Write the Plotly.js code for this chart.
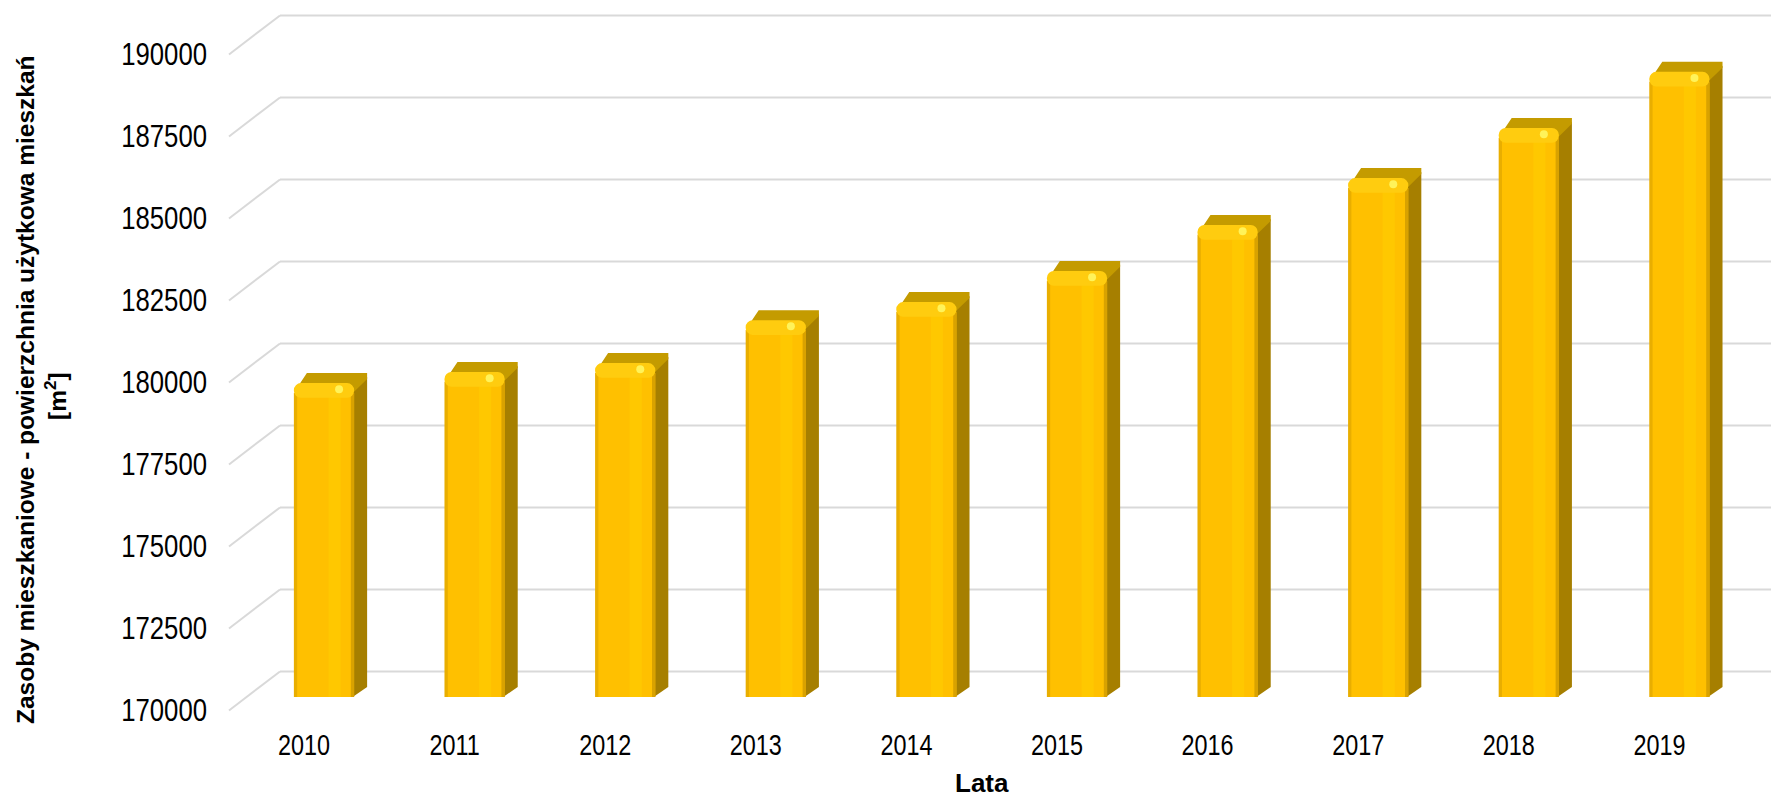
<!DOCTYPE html>
<html>
<head>
<meta charset="utf-8">
<script src="https://cdn.plot.ly/plotly-3.0.1.min.js"></script>
<style>
html,body{margin:0;padding:0;background:#ffffff;}
#chart{width:1771px;height:800px;}
</style>
</head>
<body>
<div id="chart"></div>
<script>
// ---- data ----
const years = ['2010','2011','2012','2013','2014','2015','2016','2017','2018','2019'];
const values = [179570, 179910, 180180, 181490, 182040, 182990, 184390, 185820, 187350, 189060];
const yTicks = [170000, 172500, 175000, 177500, 180000, 182500, 185000, 187500, 190000];
const yTickLabels = ['170000','172500','175000','177500','180000','182500','185000','187500','190000'];
const yTitleLine1 = 'Zasoby mieszkaniowe - powierzchnia użytkowa mieszkań';
const yTitleLine2 = '[m<sup>2</sup>]';
const xTitle = 'Lata';

// ---- layout constants ----
const W = 1771, H = 800;
const BASE = 170000;
const XR = [-2.1514, 9.6082];
const YR = [166860, 191250];
const HALF = 0.2;          // half width of the front face (category units)
const DX = 0.0863;         // depth offset of bar (category units)
const DY = 305;            // depth offset of bar (value units)
const BACK = 780;          // back wall offset (value units)
const FRONT = -410;        // label plane offset (value units)
const CAP = 450;           // height of the rounded top band (value units)
const FONT = "'Liberation Sans', Arial, sans-serif";
const NARROW_X = 0.78;     // horizontal condensing of year labels
const NARROW_Y = 0.83;     // horizontal condensing of value labels

const idx = years.map((_, i) => i);
const heights = values.map(v => v - BASE);

// side and top faces (polygons, drawn under the front faces)
const sideX = [], sideY = [], topX = [], topY = [];
values.forEach((v, i) => {
  const xl = i - HALF, xr = i + HALF;
  sideX.push(xr - 0.01, xr + DX, xr + DX, xr - 0.01, null);
  sideY.push(BASE, BASE + DY, v + DY - 120, v - 100, null);
  topX.push(xl + 0.004, xl + DX, xr + DX, xr + DX, xr, null);
  topY.push(v - 260, v + DY, v + DY, v + DY - 180, v - 260, null);
});

const deco = {hoverinfo: 'skip', showlegend: false};
const traces = [
  Object.assign({type: 'scatter', x: sideX, y: sideY, mode: 'lines', fill: 'toself',
    fillcolor: '#A67F00', line: {width: 0, color: '#A67F00'}, xaxis: 'x', yaxis: 'y'}, deco),
  Object.assign({type: 'scatter', x: topX, y: topY, mode: 'lines', fill: 'toself',
    fillcolor: '#C49B00', line: {width: 0, color: '#C49B00'}, xaxis: 'x', yaxis: 'y'}, deco),
  // front faces
  Object.assign({type: 'bar', x: idx, y: heights.map(h => h - CAP + 150), base: BASE, width: 2 * HALF, offset: -HALF,
    marker: {color: '#E9AE00', line: {width: 0}}, xaxis: 'x2', yaxis: 'y2'}, deco),
  Object.assign({type: 'bar', x: idx, y: heights.map(h => h - CAP + 150), base: BASE, width: 0.37, offset: -0.178,
    marker: {color: '#FFC000', line: {width: 0}}, xaxis: 'x2', yaxis: 'y2'}, deco),
  Object.assign({type: 'bar', x: idx, y: heights.map(h => h - CAP + 150), base: BASE, width: 0.08, offset: 0.03,
    marker: {color: '#FFC800', line: {width: 0}}, xaxis: 'x2', yaxis: 'y2'}, deco),
  Object.assign({type: 'bar', x: idx, y: heights.map(h => h - CAP + 150), base: BASE, width: 0.022, offset: 0.178,
    marker: {color: '#D9A200', line: {width: 0}}, xaxis: 'x2', yaxis: 'y2'}, deco),
  Object.assign({type: 'bar', x: idx, y: values.map(() => CAP), base: values.map(v => v - CAP), width: 2 * HALF, offset: -HALF,
    marker: {color: '#FFCC0F', cornerradius: 10, line: {width: 0}}, xaxis: 'x2', yaxis: 'y2'}, deco),
  Object.assign({type: 'scatter', mode: 'markers', x: idx.map(i => i + 0.1), y: values.map(v => v - 190),
    marker: {size: 8, color: '#FFF35A', line: {width: 0}}, xaxis: 'x2', yaxis: 'y2'}, deco)
];

const shapes = [];
yTicks.forEach(t => {
  shapes.push({type: 'line', xref: 'paper', yref: 'y', x0: 280 / W, x1: 1, y0: t + BACK, y1: t + BACK,
    line: {color: '#D9D9D9', width: 2}, layer: 'below'});
  shapes.push({type: 'line', xref: 'paper', yref: 'y', x0: 229 / W, x1: 280 / W, y0: t + FRONT, y1: t + BACK,
    line: {color: '#D9D9D9', width: 2}, layer: 'below'});
});

const titleFont = {family: FONT, size: 24.5, weight: 'bold', color: '#000'};
const layout = {
  width: W, height: H,
  margin: {l: 0, r: 0, t: 0, b: 0, pad: 0},
  paper_bgcolor: '#FFFFFF', plot_bgcolor: 'rgba(0,0,0,0)',
  showlegend: false, barmode: 'overlay',
  font: {family: FONT, color: '#000000'},
  xaxis: {domain: [0, 1], range: XR, anchor: 'free', position: 1 - 710 / H,
    tickmode: 'array', tickvals: idx, ticktext: years, ticks: '', ticklabelshift: -20, ticklabelstandoff: 14,
    tickfont: {family: FONT, size: 30, color: '#000'}, showgrid: false, zeroline: false, showline: false, fixedrange: true},
  yaxis: {domain: [0, 1], range: YR, anchor: 'free', position: 229 / W,
    tickmode: 'array', tickvals: yTicks, ticktext: yTickLabels, ticks: '', ticklabelshift: 13, ticklabelstandoff: 22,
    tickfont: {family: FONT, size: 31, color: '#000'}, showgrid: false, zeroline: false, showline: false, fixedrange: true},
  xaxis2: {overlaying: 'x', range: XR, anchor: 'y2', visible: false, fixedrange: true},
  yaxis2: {overlaying: 'y', range: YR, anchor: 'x2', visible: false, fixedrange: true},
  shapes: shapes,
  annotations: [
    {text: yTitleLine1, xref: 'paper', yref: 'paper', x: 25 / W, y: 1 - 390 / H, xanchor: 'center', yanchor: 'middle',
      textangle: -90, showarrow: false, font: titleFont},
    {text: yTitleLine2, xref: 'paper', yref: 'paper', x: 55 / W, y: 1 - 396 / H, xanchor: 'center', yanchor: 'middle',
      textangle: -90, showarrow: false, font: titleFont},
    {text: xTitle, xref: 'paper', yref: 'paper', x: 982 / W, y: 0, xanchor: 'center', yanchor: 'bottom',
      showarrow: false, font: {family: FONT, size: 26, weight: 'bold', color: '#000'}}
  ]
};

function condense(gd, selector, s) {
  gd.querySelectorAll(selector).forEach(t => {
    const x = parseFloat(t.getAttribute('x')) || 0;
    const tr = t.getAttribute('transform') || '';
    t.setAttribute('transform', tr + ' translate(' + x + ',0) scale(' + s + ',1) translate(' + (-x) + ',0)');
  });
}

Plotly.newPlot('chart', traces, layout, {displayModeBar: false, staticPlot: true}).then(gd => {
  // narrow type as in the reference: condense tick labels around their anchor point
  condense(gd, '.xtick text', NARROW_X);
  condense(gd, '.ytick text', NARROW_Y);
});
</script>
</body>
</html>
